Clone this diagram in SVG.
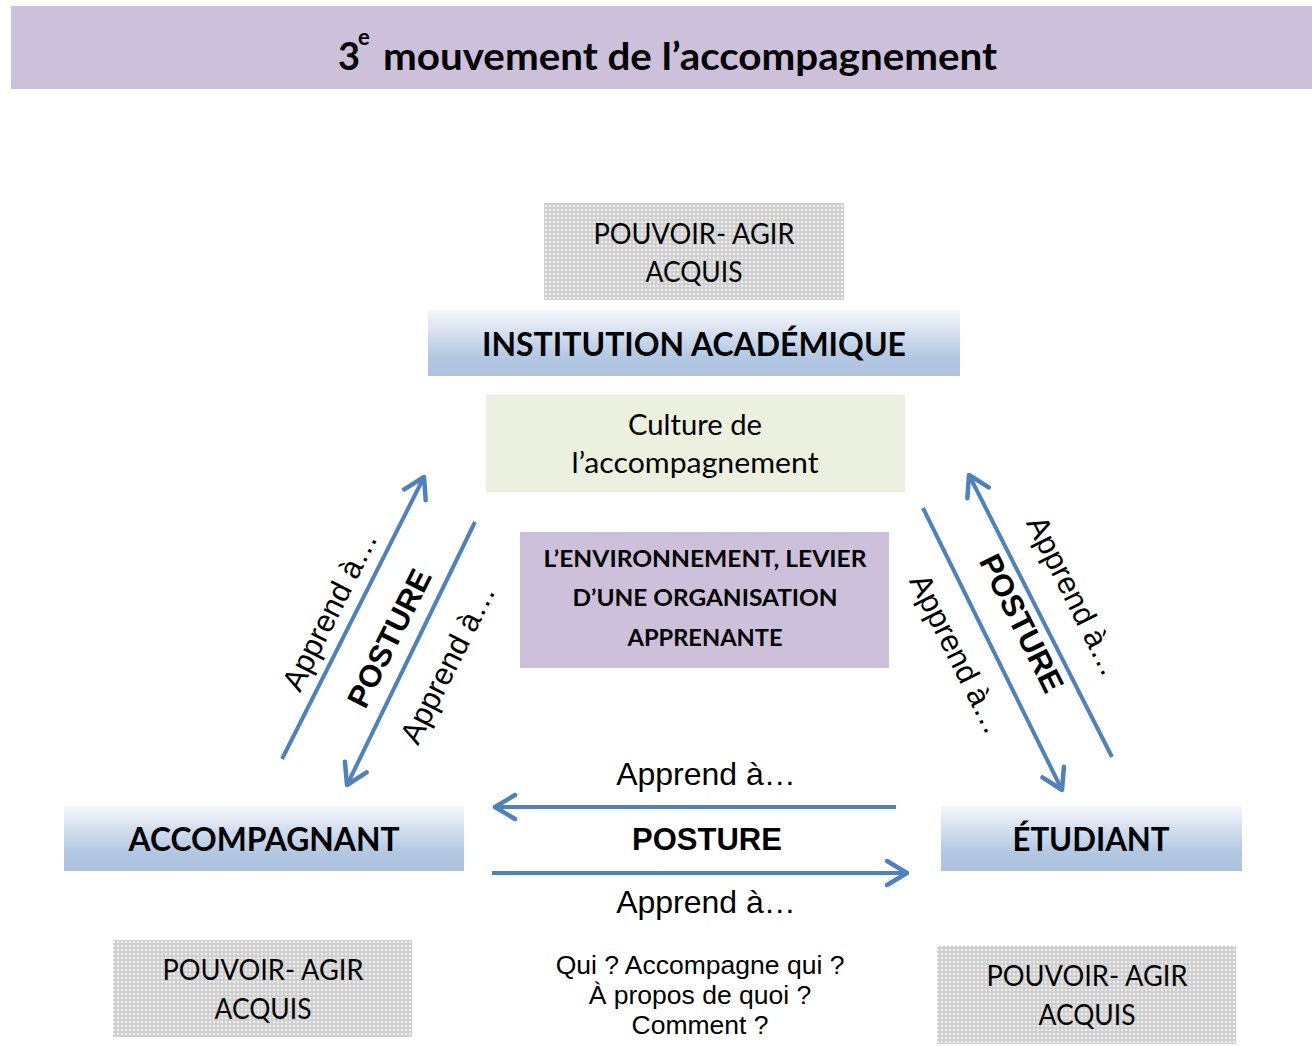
<svg xmlns="http://www.w3.org/2000/svg" width="1312" height="1046" viewBox="0 0 1312 1046">
<style>
.cal{font-family:Lato,"Open Sans","Liberation Sans",sans-serif;fill:#000}
.calb{font-family:Lato,"Open Sans","Liberation Sans",sans-serif;font-weight:bold;fill:#000}
.ar{font-family:"Liberation Sans",Arial,sans-serif;fill:#000}
.arb{font-family:"Liberation Sans",Arial,sans-serif;font-weight:bold;fill:#000}
.conn{stroke:#4f81bd;stroke-width:4;fill:none;stroke-linecap:butt}
</style>
<defs>
<pattern id="dots" width="4" height="4" patternUnits="userSpaceOnUse">
<rect width="4" height="4" fill="#d0d0d0"/>
<circle cx="2" cy="2" r="0.9" fill="#ffffff"/>
</pattern>
<linearGradient id="blue" x1="0" y1="0" x2="0" y2="1">
<stop offset="0" stop-color="#f5f7fb"/>
<stop offset="0.72" stop-color="#b2c7e2"/>
<stop offset="1" stop-color="#adc3e0"/>
</linearGradient>
<marker id="ah" markerUnits="userSpaceOnUse" markerWidth="40" markerHeight="40" viewBox="-30 -20 40 40" refX="0" refY="0" orient="auto">
<path d="M-20 -12 L0 0 L-20 12" fill="none" stroke="#4f81bd" stroke-width="4.5" stroke-linecap="round" stroke-linejoin="round"/>
</marker>
</defs>
<rect width="1312" height="1046" fill="#ffffff"/>

<g id="title">
<rect x="11" y="6" width="1301" height="83" fill="#ccc0da"/>
<text class="calb" x="338" y="70" font-size="38">3</text>
<text class="calb" x="358" y="45" font-size="22">e</text>
<text class="calb" x="383" y="70" font-size="38" textLength="614" lengthAdjust="spacingAndGlyphs">mouvement de l’accompagnement</text>
</g>

<g id="pouvoir-top">
<rect x="544" y="203" width="300" height="97" fill="url(#dots)"/>
<text class="cal" x="694" y="244" font-size="28" text-anchor="middle" textLength="201" lengthAdjust="spacingAndGlyphs">POUVOIR- AGIR</text>
<text class="cal" x="694" y="282" font-size="28" text-anchor="middle" textLength="97" lengthAdjust="spacingAndGlyphs">ACQUIS</text>
</g>

<g id="institution">
<rect x="428" y="310" width="532" height="66" fill="url(#blue)"/>
<text class="calb" x="694" y="356" font-size="33" text-anchor="middle" textLength="424" lengthAdjust="spacingAndGlyphs">INSTITUTION ACADÉMIQUE</text>
</g>

<g id="culture">
<rect x="486" y="395" width="419" height="97" fill="#ebf1de"/>
<text class="cal" x="695" y="435" font-size="28" text-anchor="middle" textLength="134" lengthAdjust="spacingAndGlyphs">Culture de</text>
<text class="cal" x="695" y="473" font-size="28" text-anchor="middle" textLength="247" lengthAdjust="spacingAndGlyphs">l’accompagnement</text>
</g>

<g id="environnement">
<rect x="520" y="532" width="369" height="136" fill="#ccc0da"/>
<text class="calb" x="705" y="567" font-size="22" text-anchor="middle" textLength="323" lengthAdjust="spacingAndGlyphs">L’ENVIRONNEMENT, LEVIER</text>
<text class="calb" x="705" y="606" font-size="22" text-anchor="middle" textLength="265" lengthAdjust="spacingAndGlyphs">D’UNE ORGANISATION</text>
<text class="calb" x="705" y="646" font-size="22" text-anchor="middle" textLength="155" lengthAdjust="spacingAndGlyphs">APPRENANTE</text>
</g>

<g id="accompagnant">
<rect x="64" y="806" width="400" height="65" fill="url(#blue)"/>
<text class="calb" x="264" y="851" font-size="33" text-anchor="middle" textLength="271" lengthAdjust="spacingAndGlyphs">ACCOMPAGNANT</text>
</g>

<g id="etudiant">
<rect x="941" y="806" width="301" height="65" fill="url(#blue)"/>
<text class="calb" x="1091" y="851" font-size="33" text-anchor="middle" textLength="157" lengthAdjust="spacingAndGlyphs">ÉTUDIANT</text>
</g>

<g id="pouvoir-left">
<rect x="113" y="940" width="299" height="97" fill="url(#dots)"/>
<text class="cal" x="263" y="980" font-size="28" text-anchor="middle" textLength="201" lengthAdjust="spacingAndGlyphs">POUVOIR- AGIR</text>
<text class="cal" x="263" y="1019" font-size="28" text-anchor="middle" textLength="97" lengthAdjust="spacingAndGlyphs">ACQUIS</text>
</g>

<g id="pouvoir-right">
<rect x="937" y="946" width="299" height="98" fill="url(#dots)"/>
<text class="cal" x="1087" y="986" font-size="28" text-anchor="middle" textLength="201" lengthAdjust="spacingAndGlyphs">POUVOIR- AGIR</text>
<text class="cal" x="1087" y="1025" font-size="28" text-anchor="middle" textLength="97" lengthAdjust="spacingAndGlyphs">ACQUIS</text>
</g>

<g id="questions">
<text class="ar" x="700" y="974" font-size="26.5" text-anchor="middle">Qui ? Accompagne qui ?</text>
<text class="ar" x="700" y="1004" font-size="26.5" text-anchor="middle">À propos de quoi ?</text>
<text class="ar" x="700" y="1034" font-size="26.5" text-anchor="middle">Comment ?</text>
</g>

<g id="connectors">
<line class="conn" x1="282" y1="759" x2="424" y2="477" marker-end="url(#ah)"/>
<line class="conn" x1="475" y1="522" x2="347" y2="785" marker-end="url(#ah)"/>
<line class="conn" x1="1112" y1="757" x2="969" y2="475" marker-end="url(#ah)"/>
<line class="conn" x1="923" y1="508" x2="1062" y2="790" marker-end="url(#ah)"/>
<line class="conn" x1="896" y1="807" x2="495" y2="807" marker-end="url(#ah)"/>
<line class="conn" x1="492" y1="873" x2="907" y2="873" marker-end="url(#ah)"/>
</g>

<g id="connector-labels">
<text class="ar" x="706" y="785" font-size="32" text-anchor="middle">Apprend à…</text>
<text class="arb" x="707" y="850" font-size="31" text-anchor="middle">POSTURE</text>
<text class="ar" x="706" y="913" font-size="32" text-anchor="middle">Apprend à…</text>
<g transform="translate(332,612) rotate(-63.3)"><text class="ar" x="0" y="8" font-size="31" text-anchor="middle">Apprend à…</text></g>
<g transform="translate(389,638) rotate(-63.3)"><text class="arb" x="0" y="11" font-size="31" text-anchor="middle">POSTURE</text></g>
<g transform="translate(450,665) rotate(-63.3)"><text class="ar" x="0" y="8" font-size="31" text-anchor="middle">Apprend à…</text></g>
<g transform="translate(1072,597) rotate(63.3)"><text class="ar" x="0" y="8" font-size="31" text-anchor="middle">Apprend à…</text></g>
<g transform="translate(1022,623) rotate(63.3)"><text class="arb" x="0" y="11" font-size="31" text-anchor="middle">POSTURE</text></g>
<g transform="translate(955,655) rotate(63.3)"><text class="ar" x="0" y="8" font-size="31" text-anchor="middle">Apprend à…</text></g>
</g>
</svg>
